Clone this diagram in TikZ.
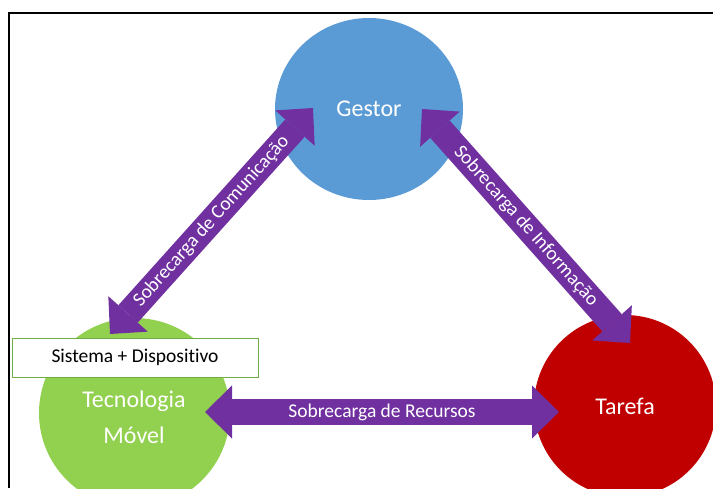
\documentclass[tikz,border=0pt]{standalone}
\usepackage{fontspec}
\setmainfont{Carlito}[Ligatures={NoCommon}]
\usetikzlibrary{shapes.geometric,arrows.meta}
\definecolor{gestorblue}{HTML}{5B9BD5}
\definecolor{movelgreen}{HTML}{92D050}
\definecolor{tarefared}{HTML}{C00000}
\definecolor{cargapurple}{HTML}{7030A0}
\definecolor{boxgreen}{HTML}{70AD47}

\begin{document}
\begin{tikzpicture}[x=1pt, y=-1pt,
    bola/.style={ellipse, text=white, align=center, inner sep=0pt,
      font=\fontsize{24}{36}\selectfont},
    carga/.style={cargapurple, line width=26pt, {Triangle[length=27pt, width=53pt, line width=0pt]}-{Triangle[length=27pt, width=53pt, line width=0pt]}},
    rotulo/.style={text=white, midway, sloped, font=\fontsize{19.5}{21}\selectfont}]
    \useasboundingbox (0,0) rectangle (713,488);
    \clip (0,0) rectangle (713,488);
    % moldura
    \draw[line width=1.5pt] (9,488) -- (9,13) -- (713,13);
    % circulos
    \node[bola, fill=gestorblue, minimum width=188pt, minimum height=182pt] (gestor) at (369,109) {Gestor};
    \node[bola, fill=movelgreen, minimum width=191pt, minimum height=190pt] (movel) at (134.5,413) {};
    \node[text=white, align=center, font=\fontsize{24}{36}\selectfont] (movtxt) at (134,417) {Tecnologia\\Móvel};
    \node[bola, fill=tarefared, minimum width=182pt, minimum height=182pt] (tarefa) at (625,406) {Tarefa};
    % pontas das setas
    \coordinate (cm1) at (110,334);
    \coordinate (cm2) at (313,108);
    \coordinate (in1) at (422,109);
    \coordinate (in2) at (630,343);
    \coordinate (re1) at (205,412);
    \coordinate (re2) at (559,412);
    \draw[carga] (cm1) -- (cm2) node[rotulo] {Sobrecarga de Comunicação};
    \draw[carga] (in1) -- (in2) node[rotulo] {Sobrecarga de Informação};
    \draw[carga] (re1) -- (re2) node[rotulo] {Sobrecarga de Recursos};
    % caixa
    \node[draw=boxgreen, fill=white, line width=1pt, minimum width=246pt, minimum height=39pt, inner sep=0pt,
      font=\fontsize{19.5}{21}\selectfont] (sistema) at (135,357.5) {Sistema + Dispositivo};
\end{tikzpicture}
\end{document}
